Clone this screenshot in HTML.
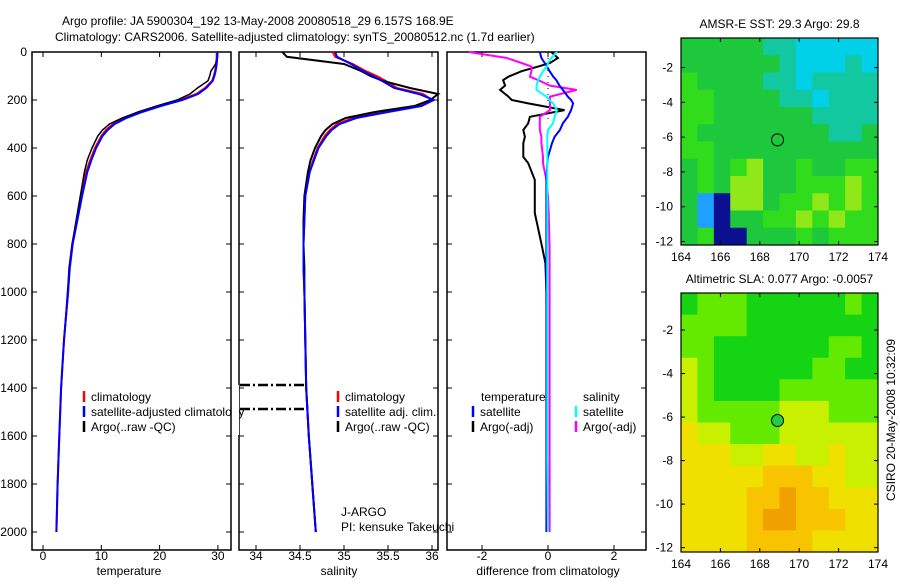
<!DOCTYPE html>
<html><head><meta charset="utf-8"><style>
body{margin:0;background:#fff}
svg text{font-family:"Liberation Sans",sans-serif;font-size:12px;fill:#000}
</style></head><body>
<svg id="fig" width="900" height="580" xmlns="http://www.w3.org/2000/svg">
<text x="62" y="25">Argo profile: JA 5900304_192 13-May-2008 20080518_29 6.157S 168.9E</text>
<text x="55" y="41">Climatology: CARS2006. Satellite-adjusted climatology: synTS_20080512.nc (1.7d earlier)</text>
<g id="g"></g>
</svg>
<script>
const depths=[0,20,50,80,100,120,150,175,200,225,250,275,300,325,350,400,450,500,600,700,800,900,1000,1200,1400,1600,1800,2000];
const tempClim=[29.8,29.8,29.7,29.5,29.3,29.0,27.8,26.3,23.5,19.8,16.6,14.0,12.0,10.8,10.0,8.9,8.1,7.4,6.6,5.8,5.0,4.5,4.3,3.6,3.1,2.8,2.5,2.3];
const tempSat=[29.9,29.9,29.8,29.6,29.4,29.1,28.0,26.6,23.9,20.2,17.0,14.3,12.3,11.1,10.2,9.1,8.3,7.6,6.7,5.9,5.1,4.6,4.3,3.6,3.1,2.8,2.5,2.3];
const tempArgo=[29.9,29.9,29.6,28.8,28.6,28.3,26.5,25.2,23.0,19.5,16.3,13.6,11.4,10.2,9.4,8.4,7.6,7.1,6.4,5.7,5.0,4.5,4.2,3.6,3.1,2.8,2.5,2.3];
const salClim=[34.87,34.9,35.1,35.25,35.37,35.47,35.6,35.9,36.0,35.83,35.44,35.1,34.92,34.84,34.78,34.7,34.65,34.61,34.56,34.55,34.54,34.54,34.55,34.56,34.57,34.6,34.64,34.68];
const salSat=[34.9,34.92,35.08,35.22,35.33,35.43,35.57,35.85,36.02,35.88,35.5,35.14,34.95,34.86,34.8,34.71,34.66,34.61,34.56,34.55,34.54,34.54,34.55,34.56,34.57,34.6,34.64,34.68];
const salArgo=[34.3,34.35,35.0,35.2,35.3,35.44,35.75,36.07,35.98,35.8,35.35,35.02,34.87,34.79,34.74,34.67,34.62,34.59,34.55,34.54,34.54,34.55,34.55,34.56,34.57,34.6,34.64,34.68];
const diffDepths=[0,25,46,61,80,103,117,140,158,186,200,214,242,270,297,325,353,380,437,463,533,600,671,812,880,1000,1158,1400,1700,2000];
const diffTempArgo=[0.1,0.3,0.06,-0.3,-0.8,-1.2,-1.36,-1.3,-1.45,-1.2,-1.1,-0.6,0.5,-0.55,-0.6,-0.75,-0.7,-0.75,-0.75,-0.6,-0.4,-0.4,-0.4,-0.18,-0.08,-0.05,-0.04,-0.03,-0.03,-0.03];
const diffSalArgo=[-2.4,-1.25,-0.8,-0.5,-0.5,-0.55,-0.3,0.06,0.87,0.06,0.06,0.06,0.06,-0.25,-0.25,-0.25,-0.2,-0.2,-0.15,-0.15,-0.05,0.0,0.02,0.05,0.05,0.05,0.05,0.05,0.05,0.05];
const diffTempSat=[-0.25,-0.2,-0.1,-0.03,0.05,0.16,0.25,0.35,0.45,0.6,0.7,0.76,0.7,0.6,0.45,0.36,0.2,0.12,0.0,-0.02,-0.05,-0.05,-0.05,-0.05,-0.05,-0.05,-0.05,-0.05,-0.05,-0.05];
const diffSalSat=[0.27,0.1,0.0,-0.03,-0.15,-0.25,-0.3,-0.35,-0.35,-0.05,0.05,0.15,0.27,0.2,0.15,0.0,-0.02,-0.02,-0.02,-0.02,-0.02,-0.02,-0.02,-0.02,-0.02,-0.02,-0.02,-0.02,-0.02,0.0];
const depthTicks=[0,200,400,600,800,1000,1200,1400,1600,1800,2000];
const tempTicks=[0,10,20,30];
const salTicks=[34,34.5,35,35.5,36];
const diffTicks=[-2,0,2];
const lonTicks=[164,166,168,170,172,174];
const latTicks=[-2,-4,-6,-8,-10,-12];
const sstGrid=["cccccbbaaaaa","ccccccbaaaba","dccccbbabbbb","ddccccbbabbb","ddccccccbbbb","dccccccccbbc","ddcccccccccc","cdcdeccdccdd","cdceeccddded","chgeecddeded","chgccddededd","cdggcccdcddd"];
const slaGrid=["GLLLGGGGGGLG","LLLLGGGGGGGG","LLGGGGGGGLLG","YLGGGGGGLLGG","YLGGGGLLLLLL","YLLLLLYYYLLL","yYYLLLYYYYYY","yyyYYyyYYyYY","yyyyyoooyyYY","yyyyooOooyyy","yyyyoOOoooyy","yyyyooooyyyy"];
const argoLon=168.9, argoLat=-6.157;

const NS="http://www.w3.org/2000/svg";
const G=document.getElementById('g');
function mk(t,a,p){const e=document.createElementNS(NS,t);for(const k in a)e.setAttribute(k,a[k]);(p||G).appendChild(e);return e;}
const dy=d=>52+d*0.24;
const tx=v=>43+v*5.83;
const sx=v=>256+(v-34)*88;
const fx=v=>548+v*33;

function panel(x0,x1,name,xs,xticks,xlab,lblx,ylabels){
  const b=mk('rect',{x:x0,y:52,width:x1-x0,height:498,fill:'none',stroke:'#000','stroke-width':1.5});
  
  depthTicks.forEach(d=>{
    mk('line',{x1:x0,x2:x0+5,y1:dy(d),y2:dy(d),stroke:'#000'});
    mk('line',{x1:x1-5,x2:x1,y1:dy(d),y2:dy(d),stroke:'#000'});
    if(ylabels){const t=mk('text',{x:27,y:dy(d)+4,'text-anchor':'end'});t.textContent=d;
      }
  });
  xticks.forEach(v=>{
    mk('line',{x1:xs(v),x2:xs(v),y1:52,y2:57,stroke:'#000'});
    mk('line',{x1:xs(v),x2:xs(v),y1:545,y2:550,stroke:'#000'});
    const t=mk('text',{x:xs(v),y:560,'text-anchor':'middle'});t.textContent=v;
    
  });
  const t=mk('text',{x:lblx,y:575,'text-anchor':'middle'});t.textContent=xlab;
  
}
function line(ds,vs,xs,col,w,name){
  const p=mk('polyline',{points:ds.map((d,i)=>xs(vs[i]).toFixed(1)+','+dy(d).toFixed(1)).join(' '),fill:'none',stroke:col,'stroke-width':w});
  
}
function legend(x,y,col,txt,name){
  mk('line',{x1:x,x2:x,y1:y-6,y2:y+5,stroke:col,'stroke-width':2.5});
  const t=mk('text',{x:x+7,y:y+4});t.textContent=txt;
  
}
panel(32,231,'temperature-panel',tx,tempTicks,'temperature',129,true);
panel(239,438,'salinity-panel',sx,salTicks,'salinity',339,false);
panel(447,646,'difference-panel',fx,diffTicks,'difference from climatology',548,false);

line(depths,tempClim,tx,'#f00',2,'temperature-climatology-line');
line(depths,tempArgo,tx,'#000',1.5,'temperature-argo-line');
line(depths,tempSat,tx,'#00f',2,'temperature-satellite-line');
line(depths,salClim,sx,'#f00',2,'salinity-climatology-line');
line(depths,salArgo,sx,'#000',2,'salinity-argo-line');
line(depths,salSat,sx,'#00f',2,'salinity-satellite-line');
mk('line',{x1:548,x2:548,y1:52,y2:dy(280),stroke:'#000','stroke-dasharray':'1,5'});
line(diffDepths,diffTempArgo,fx,'#000',2,'diff-temperature-argo-line');
line(diffDepths,diffSalArgo,fx,'#f0f',2,'diff-salinity-argo-line');
line(diffDepths,diffTempSat,fx,'#00f',2,'diff-temperature-satellite-line');
line(diffDepths,diffSalSat,fx,'#0ff',2,'diff-salinity-satellite-line');

[385,409].forEach(y=>mk('line',{x1:240,x2:306,y1:y,y2:y,stroke:'#000','stroke-width':2.5,'stroke-dasharray':'10,3,2,3'}));

legend(84,397,'#f00','climatology','legend-climatology');
legend(84,412,'#00f','satellite-adjusted climatology','legend-satellite-adjusted');
legend(84,427,'#000','Argo(..raw -QC)','legend-argo');
mk('rect',{x:232,y:385,width:7,height:50,fill:'#fff'});
legend(338,397,'#f00','climatology','legend-sal-climatology');
legend(338,412,'#00f','satellite adj. clim.','legend-sal-satellite');
legend(338,427,'#000','Argo(..raw -QC)','legend-sal-argo');
{const t=mk('text',{x:481,y:401});t.textContent='temperature';}
{const t=mk('text',{x:583,y:401});t.textContent='salinity';}
legend(473,412,'#00f','satellite','legend-diff-temp-satellite');
legend(473,427,'#000','Argo(-adj)','legend-diff-temp-argo');
legend(576,412,'#0ff','satellite','legend-diff-sal-satellite');
legend(576,427,'#f0f','Argo(-adj)','legend-diff-sal-argo');
{const t=mk('text',{x:341,y:516});t.textContent='J-ARGO';}
{const t=mk('text',{x:341,y:531});t.textContent='PI: kensuke Takeuchi';}

const sstPal={a:'#00d0e8',b:'#12c8a0',c:'#1ec83c',d:'#30dc1c',e:'#90e818',f:'#c8f000',g:'#0a1090',h:'#1ea0ff'};
const slaPal={G:'#14d414',L:'#64ea00',Y:'#c8f000',y:'#f0e000',o:'#f8c400',O:'#f0a000'};
function map(y0,y1,grid,pal,title,name,filled){
  const x0=681,x1=878;
  const lx=v=>x0+(v-164)*(x1-x0)/10;
  const latTop=-0.3,latBot=-12.2;
  const ly=v=>y0+(v-latTop)*(y1-y0)/(latBot-latTop);
  const rows=grid.length,cols=grid[0].length;
  const cw=(x1-x0)/cols,ch=(y1-y0)/rows;
  grid.forEach((r,i)=>r.split('').forEach((c,j)=>{
    const e=mk('rect',{x:x0+j*cw,y:y0+i*ch,width:cw+0.5,height:ch+0.5,fill:pal[c]});
    
  }));
  const f=mk('rect',{x:x0,y:y0,width:x1-x0,height:y1-y0,fill:'none',stroke:'#000','stroke-width':1.2});
  
  lonTicks.forEach(v=>{mk('line',{x1:lx(v),x2:lx(v),y1:y1,y2:y1-4,stroke:'#000'});mk('line',{x1:lx(v),x2:lx(v),y1:y0,y2:y0+4,stroke:'#000'});
    const t=mk('text',{x:lx(v),y:y1+16,'text-anchor':'middle'});t.textContent=v;});
  latTicks.forEach(v=>{mk('line',{x1:x0,x2:x0+4,y1:ly(v),y2:ly(v),stroke:'#000'});mk('line',{x1:x1-4,x2:x1,y1:ly(v),y2:ly(v),stroke:'#000'});
    const t=mk('text',{x:x0-8,y:ly(v)+4,'text-anchor':'end'});t.textContent=v;});
  const c=mk('circle',{cx:lx(argoLon),cy:ly(argoLat),r:6,fill:filled?'#22cc44':'none',stroke:'#000','stroke-width':1});
  
  const t=mk('text',{x:(x0+x1)/2,y:y0-10,'text-anchor':'middle'});t.textContent=title;
  
}
map(38,245,sstGrid,sstPal,'AMSR-E SST: 29.3 Argo: 29.8','sst-map',false);
map(293,552,slaGrid,slaPal,'Altimetric SLA: 0.077 Argo: -0.0057','sla-map',true);
{const t=mk('text',{x:0,y:0,'text-anchor':'middle',transform:'translate(895,420) rotate(-90)'});t.textContent='CSIRO 20-May-2008 10:32:09';}
</script>
</body></html>
